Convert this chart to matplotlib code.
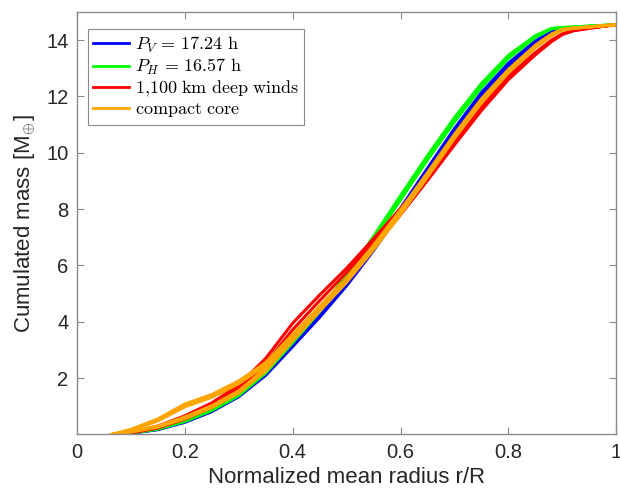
import matplotlib
matplotlib.use("Agg")
import matplotlib.pyplot as plt
from matplotlib.lines import Line2D

plt.rcParams['mathtext.fontset'] = 'cm'
plt.rcParams['font.family'] = ['Liberation Sans', 'DejaVu Sans']

# ---------------- data ----------------
# radius nodes after each curve's starting radius
R = [0.10, 0.15, 0.20, 0.25, 0.30, 0.35, 0.40, 0.45, 0.50, 0.55, 0.60,
     0.65, 0.70, 0.75, 0.80, 0.85, 0.88, 0.90, 0.92, 0.95, 1.00]
start_blue, start_green, start_red, start_orange = 0.082, 0.080, 0.075, 0.064

blue_curves = [
    [0, 0.04, 0.17, 0.43, 0.81, 1.34, 2.10, 3.12, 4.16, 5.28, 6.53, 7.90, 9.32, 10.74, 12.02, 13.08, 13.90, 14.27, 14.38, 14.43, 14.47, 14.55],
    [0, 0.05, 0.19, 0.47, 0.87, 1.42, 2.20, 3.24, 4.29, 5.41, 6.66, 8.03, 9.45, 10.86, 12.14, 13.18, 13.97, 14.31, 14.40, 14.44, 14.48, 14.55],
]
green_curves = [
    [0, 0.05, 0.19, 0.46, 0.85, 1.38, 2.18, 3.26, 4.36, 5.52, 6.88, 8.33, 9.75, 11.10, 12.32, 13.35, 14.10, 14.40, 14.44, 14.46, 14.50, 14.55],
    [0, 0.05, 0.20, 0.49, 0.89, 1.43, 2.25, 3.34, 4.46, 5.64, 7.03, 8.48, 9.90, 11.25, 12.46, 13.46, 14.16, 14.42, 14.45, 14.47, 14.50, 14.55],
]
red_curves = [
    [0, 0.08, 0.30, 0.66, 1.12, 1.75, 2.70, 3.95, 4.95, 5.90, 6.95, 8.02, 9.18, 10.42, 11.62, 12.72, 13.56, 14.00, 14.22, 14.35, 14.44, 14.55],
    [0, 0.05, 0.23, 0.54, 0.96, 1.52, 2.35, 3.45, 4.50, 5.55, 6.65, 7.80, 9.02, 10.28, 11.50, 12.60, 13.48, 13.95, 14.20, 14.33, 14.42, 14.55],
    [0, 0.06, 0.26, 0.60, 1.04, 1.63, 2.52, 3.72, 4.75, 5.75, 6.82, 7.92, 9.10, 10.36, 11.56, 12.66, 13.52, 13.98, 14.21, 14.34, 14.43, 14.55],
]
orange_curves = [
    [0, 0.18, 0.55, 1.08, 1.42, 1.90, 2.55, 3.55, 4.55, 5.55, 6.72, 7.97, 9.30, 10.66, 11.92, 12.96, 13.82, 14.22, 14.38, 14.43, 14.47, 14.55],
    [0, 0.15, 0.48, 0.98, 1.32, 1.80, 2.45, 3.45, 4.48, 5.50, 6.66, 7.91, 9.24, 10.61, 11.87, 12.92, 13.80, 14.20, 14.37, 14.42, 14.47, 14.55],
    [0, 0.10, 0.30, 0.62, 1.02, 1.55, 2.35, 3.43, 4.47, 5.50, 6.66, 7.91, 9.24, 10.61, 11.87, 12.92, 13.80, 14.20, 14.38, 14.43, 14.47, 14.55],
    [0, 0.08, 0.26, 0.56, 0.95, 1.47, 2.25, 3.33, 4.38, 5.40, 6.56, 7.81, 9.14, 10.51, 11.77, 12.84, 13.73, 14.15, 14.35, 14.42, 14.47, 14.55],
]

labels = [r'$P_V\, =\, 17.24\ \mathrm{h}$',
          r'$P_H\, =\, 16.57\ \mathrm{h}$',
          r'$\mathrm{1{,}100\ km\ deep\ winds}$',
          r'$\mathrm{compact\ core}$']
colors = ['#0000ff', '#00ff00', '#ff0000', '#ffa500']

x_ticks = [0, 0.2, 0.4, 0.6, 0.8, 1]
x_tick_labels = ['0', '0.2', '0.4', '0.6', '0.8', '1']
y_ticks = [2, 4, 6, 8, 10, 12, 14]

# ---------------- plot ----------------
fig = plt.figure(figsize=(6.2, 4.93), dpi=100)
ax = fig.add_axes([0.124, 0.1187, 0.870, 0.857])

groups = [(start_blue, blue_curves), (start_green, green_curves),
          (start_red, red_curves), (start_orange, orange_curves)]
for (st, curves), c in zip(groups, colors):
    xs = [st] + R
    for ys in curves:
        ax.plot(xs, ys, color=c, lw=2.2, solid_joinstyle='round')

ax.set_xlim(0, 1)
ax.set_ylim(0, 15)
ax.set_xticks(x_ticks)
ax.set_xticklabels(x_tick_labels)
ax.set_yticks(y_ticks)

spine_col = '#8a8a8a'
for s in ax.spines.values():
    s.set_color(spine_col)
    s.set_linewidth(1.0)
ax.tick_params(direction='in', length=5, width=0.8, color=spine_col,
               labelsize=14.5, labelcolor='#262626',
               top=True, right=True, pad=6)

ax.set_xlabel('Normalized mean radius r/R', fontsize=16, color='#262626', labelpad=4)
ax.set_ylabel(r'Cumulated mass [M$_{\oplus}$]', fontsize=16, color='#262626', labelpad=6)

handles = [Line2D([0], [0], color=c, lw=2) for c in colors]
leg = ax.legend(handles, labels, loc='upper left', bbox_to_anchor=(0.0204, 0.959),
                fontsize=13, frameon=True, fancybox=False, framealpha=1,
                edgecolor='#8a8a8a', handlelength=2.0, handletextpad=0.3,
                labelspacing=0.12, borderpad=0.3, borderaxespad=0.0)
leg.get_frame().set_linewidth(0.8)

fig.savefig('out.png', dpi=100)
